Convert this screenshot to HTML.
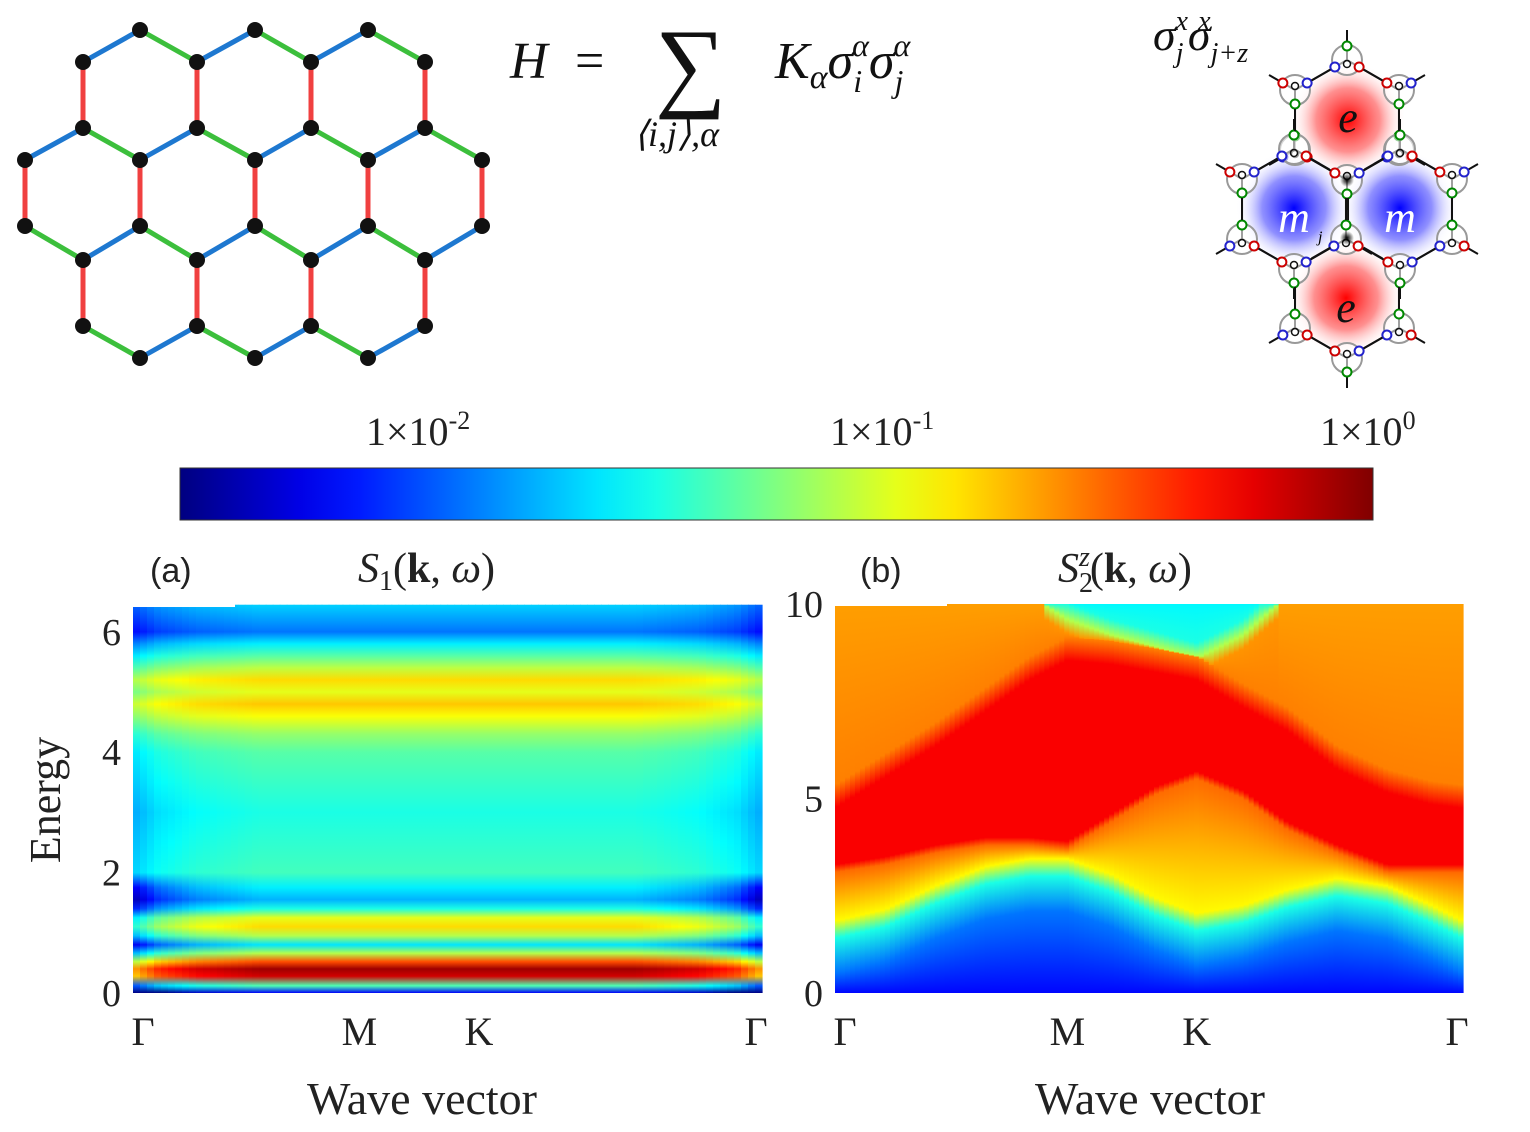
<!DOCTYPE html>
<html><head><meta charset="utf-8"><style>
body{margin:0;background:#fff;width:1530px;height:1132px;overflow:hidden}
svg{display:block}
.serif{font-family:"Liberation Serif",serif}
.sans{font-family:"Liberation Sans",sans-serif}
</style></head><body>
<svg id="fig" width="1530" height="1132" viewBox="0 0 1530 1132" xmlns="http://www.w3.org/2000/svg">
<defs>
<linearGradient id="cbar" x1="0" x2="1" y1="0" y2="0"></linearGradient>
<radialGradient id="redBlob"><stop offset="0" stop-color="#ff0000"/><stop offset="0.55" stop-color="#ff6060" stop-opacity="0.7"/><stop offset="1" stop-color="#ffffff" stop-opacity="0"/></radialGradient>
<radialGradient id="blueBlob"><stop offset="0" stop-color="#0000ff"/><stop offset="0.55" stop-color="#6060ff" stop-opacity="0.7"/><stop offset="1" stop-color="#ffffff" stop-opacity="0"/></radialGradient>
<radialGradient id="dot"><stop offset="0" stop-color="#000"/><stop offset="1" stop-color="#000" stop-opacity="0"/></radialGradient>
</defs>
<g id="honeycomb"></g>
<g id="equation" class="serif" font-style="italic" fill="#111">
<text x="510" y="78" font-size="52">H</text>
<text x="575" y="78" font-size="52" font-style="normal">=</text>
<text x="655" y="98" font-size="100" font-style="normal">∑</text>
<text x="634" y="146" font-size="36">⟨i,j⟩,α</text>
<text x="775" y="78" font-size="52">K<tspan font-size="34" dy="10">α</tspan><tspan dy="-10">σ</tspan><tspan font-size="32" dy="14">i</tspan><tspan font-size="32" dx="-10" dy="-36">α</tspan><tspan dy="22">σ</tspan><tspan font-size="32" dy="14">j</tspan><tspan font-size="32" dx="-10" dy="-36">α</tspan></text>
</g>
<g id="diagram">
<text x="1153" y="50" style="font-family:'Liberation Serif',serif;font-size:46px;font-style:italic" fill="#111">σ<tspan style="font-size:28px" dy="12">j</tspan><tspan style="font-size:28px" dx="-8" dy="-32">x</tspan><tspan dy="20">σ</tspan><tspan style="font-size:28px" dy="12">j+z</tspan><tspan style="font-size:28px" dx="-50" dy="-32">x</tspan></text>
</g>
<g id="colorbar">
<rect x="180" y="468" width="1193" height="52" fill="url(#cbar)" stroke="#333" stroke-width="1"/>
<text class="serif" x="366" y="445" font-size="40" fill="#222">1×10<tspan font-size="26" dy="-16">-2</tspan></text>
<text class="serif" x="830" y="445" font-size="40" fill="#222">1×10<tspan font-size="26" dy="-16">-1</tspan></text>
<text class="serif" x="1320" y="445" font-size="40" fill="#222">1×10<tspan font-size="26" dy="-16">0</tspan></text>
</g>
<g id="panelA"></g>
<g id="panelB"></g>
<g id="labels" class="serif" fill="#222">
<text class="sans" x="150" y="582" font-size="34">(a)</text>
<text class="sans" x="860" y="582" font-size="34">(b)</text>
<text x="358" y="582" font-size="42"><tspan font-style="italic">S</tspan><tspan font-size="28" dy="8">1</tspan><tspan dy="-8">(</tspan><tspan font-weight="bold">k</tspan>, <tspan font-style="italic">ω</tspan>)</text>
<text x="1058" y="582" font-size="42"><tspan font-style="italic">S</tspan><tspan font-size="28" dy="10">2</tspan><tspan font-size="28" font-style="italic" dx="-14" dy="-26">z</tspan><tspan dy="16">(</tspan><tspan font-weight="bold">k</tspan>, <tspan font-style="italic">ω</tspan>)</text>
<text transform="translate(60,800) rotate(-90)" text-anchor="middle" font-size="44">Energy</text>
<text x="422" y="1114" text-anchor="middle" font-size="46">Wave vector</text>
<text x="1150" y="1114" text-anchor="middle" font-size="46">Wave vector</text>
</g>
</svg>
<script>
const NS="http://www.w3.org/2000/svg";
function el(tag,attrs,parent){const e=document.createElementNS(NS,tag);for(const k in attrs)e.setAttribute(k,attrs[k]);parent.appendChild(e);return e;}
function clamp(v){return Math.max(0,Math.min(1,v));}
function jet(t){t=clamp(t);const r=clamp(1.5-Math.abs(4*t-3)),g=clamp(1.5-Math.abs(4*t-2)),b=clamp(1.5-Math.abs(4*t-1));
return `rgb(${Math.round(r*255)},${Math.round(g*255)},${Math.round(b*255)})`;}

// ---- chart data ----
const kLabels=["Γ","M","K","Γ"];
const kLabelPos=[0,0.36,0.55,1];
const kLabelPosB=[0,0.37,0.576,1];
const aTicks=[0,2,4,6];
const bTicks=[0,5,10];
// panel a: energy rows and intensity levels (colormap fraction)
const aEnergy=[0,0.12,0.28,0.4,0.52,0.66,0.8,0.95,1.1,1.25,1.4,1.55,1.75,2.0,2.5,3.0,3.5,4.0,4.3,4.6,4.8,5.0,5.2,5.4,5.6,5.8,6.0,6.2,6.45];
const aLevel=[0.12,0.45,0.92,0.97,0.8,0.55,0.35,0.55,0.66,0.6,0.4,0.3,0.36,0.44,0.42,0.4,0.43,0.46,0.52,0.62,0.68,0.6,0.66,0.56,0.46,0.36,0.24,0.28,0.33];
const aEdgeK=[0,0.04,0.1,0.2,0.5,0.8,0.9,0.96,1];
const aEdge=[0.6,0.8,0.92,1,1,1,0.92,0.8,0.6];
// panel b: momentum samples and band boundaries
const bK=[0,0.08,0.16,0.24,0.31,0.37,0.44,0.51,0.576,0.65,0.72,0.8,0.88,0.95,1];
const bCyan=[1.4,1.7,2.3,2.8,3.0,3.0,2.6,2.0,1.6,1.8,2.2,2.5,2.3,1.8,1.4];
const bRedStart=[3.3,3.5,3.8,4.0,4.0,3.9,4.6,5.3,5.7,5.2,4.4,3.8,3.3,3.3,3.3];
const bRedTop=[5.0,5.8,6.6,7.5,8.3,8.8,8.7,8.5,8.3,7.6,7.0,6.0,5.4,5.1,5.0];
const bNotch=[11,11,11,11,10.2,9.6,9.2,8.9,8.6,9.2,10.2,11,11,11,11];

// colorbar
const cb=document.getElementById('cbar');
for(let i=0;i<=20;i++){el('stop',{offset:i/20,'stop-color':jet(i/20)},cb);}

// honeycomb
(function(){
 const g=document.getElementById('honeycomb');
 const rows=[[30,[140,255,368]],[62,[83,197,311,425]],[128,[83,197,311,425]],[160,[25,140,255,368,482]],[226,[25,140,255,368,482]],[260,[83,197,311,425]],[326,[83,197,311,425]],[358,[140,255,368]]];
 const pts=[];rows.forEach(r=>r[1].forEach(x=>pts.push([x,r[0]])));
 for(let i=0;i<pts.length;i++)for(let j=i+1;j<pts.length;j++){
  const [x1,y1]=pts[i],[x2,y2]=pts[j];const dx=x2-x1,dy=y2-y1;const d=Math.hypot(dx,dy);
  if(d<72&&d>50){let col;
   if(Math.abs(dx)<3)col="#f04040";else{const L=dx>0?[x1,y1,x2,y2]:[x2,y2,x1,y1];col=(L[3]<L[1])?"#1e78d0":"#3cbf3c";}
   const ln=el('line',{x1,y1,x2,y2,stroke:col,'stroke-width':5},g);
   
   }
 }
 pts.forEach(p=>{const c=el('circle',{cx:p[0],cy:p[1],r:8,fill:'#111'},g);
  
  });
})();

// right diagram
(function(){
 const g=document.getElementById('diagram');
 const cs=[[1348,120,'e'],[1294,208,'m'],[1400,208,'m'],[1346,298,'e']];
 cs.forEach(c=>{const b=el('circle',{cx:c[0],cy:c[1],r:58,fill:c[2]=='e'?'url(#redBlob)':'url(#blueBlob)'},g);
  });
 const hc=[[1347,120],[1294,209],[1400,209],[1347,298]];
 const r=60,verts={};
 hc.forEach(c=>{const vs=[];for(let k=0;k<6;k++){const a=Math.PI/2+k*Math.PI/3;vs.push([Math.round(c[0]+r*Math.cos(a)),Math.round(c[1]-r*Math.sin(a))]);}
  vs.forEach(v=>{const key=Math.round(v[0]/4)+','+Math.round(v[1]/4);if(!verts[key])verts[key]=v;});});
 const V=Object.values(verts);
 const dirs=[[0,-1,'#080'],[0,1,'#080'],[-0.866,0.5,'#22c'],[0.866,-0.5,'#22c'],[0.866,0.5,'#c00'],[-0.866,-0.5,'#c00']];
 V.forEach(v=>{
  let diagDown=false;V.forEach(w=>{if(Math.abs(Math.abs(w[0]-v[0])-52)<4&&w[1]-v[1]>22&&w[1]-v[1]<38)diagDown=true;});
  const useUp=diagDown;
  const ds=useUp?[dirs[0],dirs[2],dirs[4]]:[dirs[1],dirs[3],dirs[5]];
  ds.forEach(d=>{el('line',{x1:v[0],y1:v[1],x2:v[0]+d[0]*30,y2:v[1]+d[1]*30,stroke:'#111','stroke-width':2},g);});
  el('circle',{cx:v[0],cy:v[1],r:15,fill:'#fff','fill-opacity':0.6,stroke:'#999','stroke-width':2},g);
  el('circle',{cx:v[0],cy:v[1]+(useUp?4:-4),r:3.5,fill:'none',stroke:'#111','stroke-width':1.5},g);
  ds.forEach(d=>el('circle',{cx:v[0]+d[0]*14,cy:v[1]+d[1]*14,r:4.5,fill:'#fff',stroke:d[2],'stroke-width':2},g));
 });
 hc.forEach(c=>{const vs=[];for(let k=0;k<6;k++){const a=Math.PI/2+k*Math.PI/3;vs.push([c[0]+r*Math.cos(a),c[1]-r*Math.sin(a)]);}
  for(let k=0;k<6;k++){const a=vs[k],b=vs[(k+1)%6];const dx=b[0]-a[0],dy=b[1]-a[1],L=Math.hypot(dx,dy);
   el('line',{x1:a[0]+dx/L*19,y1:a[1]+dy/L*19,x2:b[0]-dx/L*19,y2:b[1]-dy/L*19,stroke:'#111','stroke-width':2},g);}});
 [[1347,180],[1347,238]].forEach(p=>el('circle',{cx:p[0],cy:p[1],r:7,fill:'url(#dot)'},g));
 [[1348,120,'e'],[1294,220,'m'],[1400,220,'m'],[1346,310,'e']].forEach(c=>{const tx=el('text',{x:c[0],y:c[1]+12,'text-anchor':'middle','font-size':44,'font-style':'italic',class:'serif',fill:c[2]=='e'?'#111':'#fff'},g);tx.textContent=c[2];});
 const j=el('text',{x:1318,y:242,'font-size':16,'font-style':'italic',class:'serif'},g);j.textContent='j';
})();

function interp(xs,ys,x){if(x<=xs[0])return ys[0];for(let i=1;i<xs.length;i++)if(x<=xs[i]){const f=(x-xs[i-1])/(xs[i]-xs[i-1]);return ys[i-1]+f*(ys[i]-ys[i-1]);}return ys[ys.length-1];}

function axes(g,x0,x1,y0,scale,ticks,pos,tag){
 ticks.forEach(v=>{const y=y0-v*scale;
  const t=el('text',{x:x0-12,y:y+13,'text-anchor':'end','font-size':38,class:'serif',fill:'#222'},g);t.textContent=v;
  });
 kLabels.forEach((l,i)=>{const x=x0+(x1-x0)*pos[i];
  const t=el('text',{x:x+(i==0?10:i==3?-6:0),y:1045,'text-anchor':'middle','font-size':40,class:'serif',fill:'#222'},g);t.textContent=l;
  });
}

// panel a
(function(){
 const g=document.getElementById('panelA');const x0=133,x1=762,y0=993,sc=60.2;
 const ncol=90,w=(x1-x0)/ncol;
 const defs=document.querySelector('defs');
 for(let c=0;c<ncol;c++){const k=(c+0.5)/ncol;const ed=interp(aEdgeK,aEdge,k);
  const gid='ga'+c;const lg=el('linearGradient',{id:gid,x1:0,y1:1,x2:0,y2:0},defs);
  const Emax=aEnergy[aEnergy.length-1];
  aEnergy.forEach((E,i)=>{let lv=aLevel[i];const low=E<1.9?0.8:0.35;lv=lv-(1-ed)*low*0.8;
   el('stop',{offset:E/Emax,'stop-color':jet(lv)},lg);});
  const r=el('rect',{x:(x0+c*w).toFixed(2),y:(y0-Emax*sc).toFixed(2),width:(w+0.6).toFixed(2),height:(Emax*sc).toFixed(2),fill:`url(#${gid})`},g);
  
  
 }
 el('rect',{x:133,y:600,width:102,height:7,fill:'#fff'},g);
 axes(g,x0,x1,y0,sc,aTicks,kLabelPos,'a');
})();

// panel b
(function(){
 const g=document.getElementById('panelB');const x0=835,x1=1463,y0=993,sc=38.9,Emax=10;
 const ncol=126,w=(x1-x0)/ncol;const defs=document.querySelector('defs');
 for(let c=0;c<ncol;c++){const k=(c+0.5)/ncol;
  const cy=interp(bK,bCyan,k),rs=interp(bK,bRedStart,k),rt=interp(bK,bRedTop,k),nt=interp(bK,bNotch,k);
  const st=[[0,0.13],[Math.max(0.05,cy-0.9),0.24],[cy,0.4],[cy+0.45,0.63],[Math.max(cy+0.6,rs-0.2),0.77],[Math.max(cy+0.7,rs),0.88],[rt-0.25,0.88],[rt+0.35,0.75]];
  if(nt<10){st.push([nt-0.35,0.73],[nt,0.55],[nt+0.4,0.4],[10,0.37]);}else st.push([10,0.72]);
  const gid='gb'+c;const lg=el('linearGradient',{id:gid,x1:0,y1:1,x2:0,y2:0},defs);
  let last=0;st.forEach(s=>{let o=Math.min(1,Math.max(last,s[0]/Emax));last=o;el('stop',{offset:o,'stop-color':jet(s[1])},lg);});
  const r=el('rect',{x:(x0+c*w).toFixed(2),y:(y0-Emax*sc).toFixed(2),width:(w+0.6).toFixed(2),height:(Emax*sc).toFixed(2),fill:`url(#${gid})`},g);
  
  
 }
 el('rect',{x:835,y:598,width:112,height:8,fill:'#fff'},g);
 axes(g,x0,x1,y0,sc,bTicks,kLabelPosB,'b');
})();
</script>
</body></html>
